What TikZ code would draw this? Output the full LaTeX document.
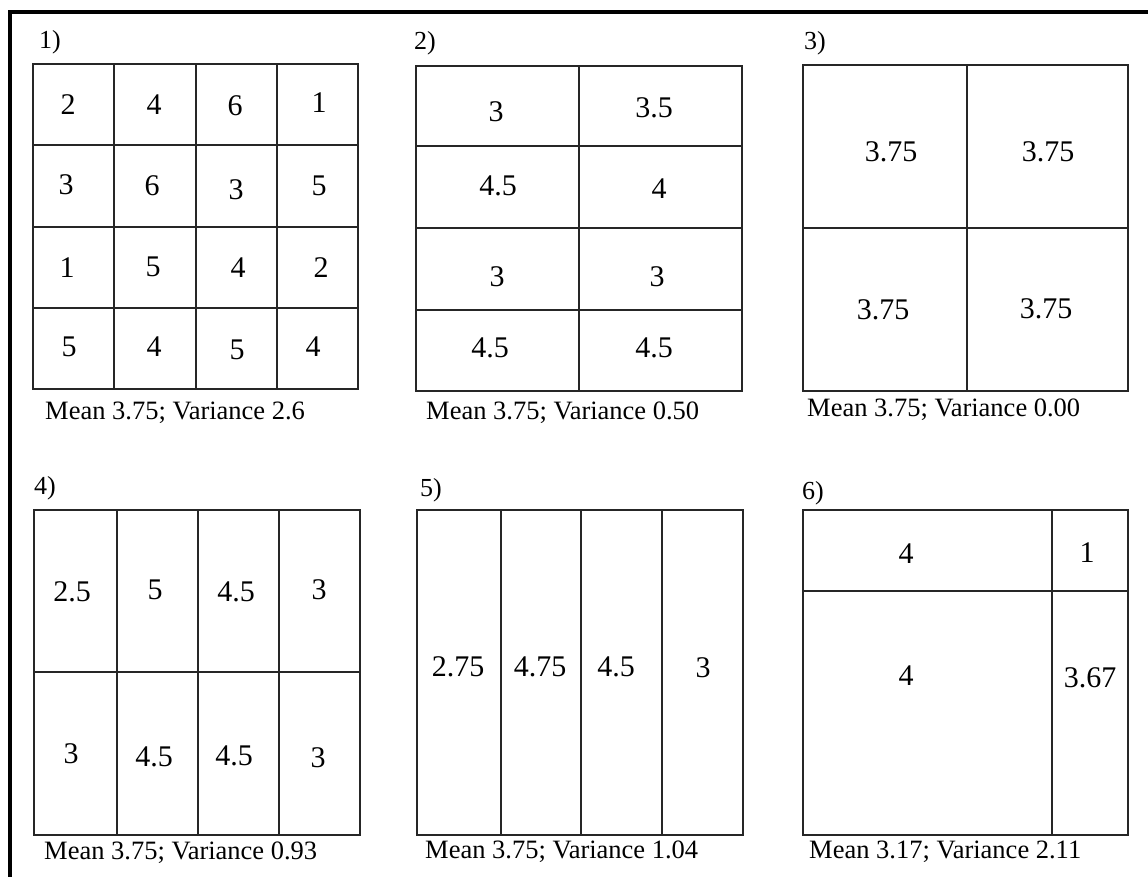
\documentclass[tikz,border=0pt]{standalone}
\usepackage{fontspec}
\setmainfont{Liberation Serif}
\begin{document}
\begin{tikzpicture}[x=1pt,y=-1pt,
  grid/.style={draw=black!85,line width=1.4pt},
  num/.style={inner sep=0pt,font=\fontsize{30}{33}\selectfont},
  captxt/.style={inner sep=0pt,anchor=west,font=\fontsize{26.5}{30}\selectfont},
  lab/.style={inner sep=0pt,anchor=west,font=\fontsize{26}{30}\selectfont}]
\useasboundingbox (0,0) rectangle (1148,877);
\fill[white] (0,0) rectangle (1148,877);
% outer border (top and left)
\draw[line width=3.5pt,black] (10,877) -- (10,12) -- (1148,12);

% ---------- panel 1 ----------
\draw[grid] (33,64) rectangle (358,389);
\foreach \x in {114,196,277} \draw[grid] (\x,64) -- (\x,389);
\foreach \y in {145,227,308} \draw[grid] (33,\y) -- (358,\y);
\node[lab] (l1) at (39,42) {1)};
\node[num] (a11) at (68,105) {2};
\node[num] (a12) at (154,105) {4};
\node[num] (a13) at (235,106) {6};
\node[num] (a14) at (319,103) {1};
\node[num] (a21) at (66,185) {3};
\node[num] (a22) at (152,186) {6};
\node[num] (a23) at (236,190) {3};
\node[num] (a24) at (319,186) {5};
\node[num] (a31) at (67,268) {1};
\node[num] (a32) at (153,267) {5};
\node[num] (a33) at (238,268) {4};
\node[num] (a34) at (321,268) {2};
\node[num] (a41) at (69,347) {5};
\node[num] (a42) at (154,347) {4};
\node[num] (a43) at (237,350) {5};
\node[num] (a44) at (313,347) {4};
\node[captxt] (c1) at (45,413) {Mean 3.75; Variance 2.6};

% ---------- panel 2 ----------
\draw[grid] (416,66) rectangle (742,391);
\draw[grid] (579,66) -- (579,391);
\foreach \y in {146,228,310} \draw[grid] (416,\y) -- (742,\y);
\node[lab] (l2) at (414,43) {2)};
\node[num] (b11) at (496,112) {3};
\node[num] (b12) at (654,108) {3.5};
\node[num] (b21) at (498,186) {4.5};
\node[num] (b22) at (659,189) {4};
\node[num] (b31) at (497,277) {3};
\node[num] (b32) at (657,277) {3};
\node[num] (b41) at (490,348) {4.5};
\node[num] (b42) at (654,348) {4.5};
\node[captxt] (c2) at (426,413) {Mean 3.75; Variance 0.50};

% ---------- panel 3 ----------
\draw[grid] (803,65) rectangle (1128,391);
\draw[grid] (967,65) -- (967,391);
\draw[grid] (803,228) -- (1128,228);
\node[lab] (l3) at (804,43) {3)};
\node[num] (d11) at (891,152) {3.75};
\node[num] (d12) at (1048,152) {3.75};
\node[num] (d21) at (883,310) {3.75};
\node[num] (d22) at (1046,309) {3.75};
\node[captxt] (c3) at (807,410) {Mean 3.75; Variance 0.00};

% ---------- panel 4 ----------
\draw[grid] (34,510) rectangle (360,835);
\foreach \x in {117,198,279} \draw[grid] (\x,510) -- (\x,835);
\draw[grid] (34,672) -- (360,672);
\node[lab] (l4) at (34,488) {4)};
\node[num] (e11) at (72,592) {2.5};
\node[num] (e12) at (155,590) {5};
\node[num] (e13) at (236,592) {4.5};
\node[num] (e14) at (319,590) {3};
\node[num] (e21) at (71,754) {3};
\node[num] (e22) at (154,757) {4.5};
\node[num] (e23) at (234,756) {4.5};
\node[num] (e24) at (318,758) {3};
\node[captxt] (c4) at (44,853) {Mean 3.75; Variance 0.93};

% ---------- panel 5 ----------
\draw[grid] (417,510) rectangle (743,835);
\foreach \x in {501,581,662} \draw[grid] (\x,510) -- (\x,835);
\node[lab] (l5) at (420,490) {5)};
\node[num] (f1) at (458,667) {2.75};
\node[num] (f2) at (540,667) {4.75};
\node[num] (f3) at (616,667) {4.5};
\node[num] (f4) at (703,668) {3};
\node[captxt] (c5) at (425,852) {Mean 3.75; Variance 1.04};

% ---------- panel 6 ----------
\draw[grid] (803,510) rectangle (1128,835);
\draw[grid] (1052,510) -- (1052,835);
\draw[grid] (803,591) -- (1128,591);
\node[lab] (l6) at (802,493) {6)};
\node[num] (g11) at (906,554) {4};
\node[num] (g12) at (1087,553) {1};
\node[num] (g21) at (906,676) {4};
\node[num] (g22) at (1090,678) {3.67};
\node[captxt] (c6) at (809,852) {Mean 3.17; Variance 2.11};
\end{tikzpicture}
\end{document}
